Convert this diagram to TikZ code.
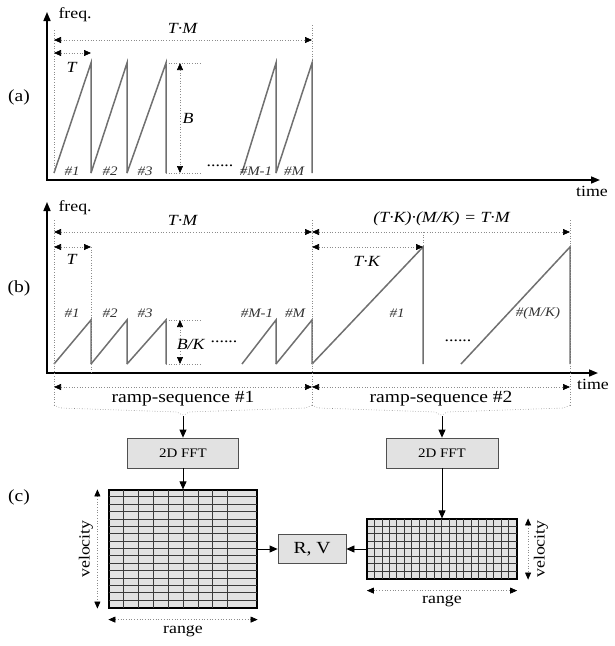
\documentclass[tikz,border=0pt]{standalone}
\usepackage{fontspec}
\setmainfont{Liberation Serif}[FakeStretch=1.15]
\usetikzlibrary{arrows.meta,calc}
\definecolor{rampgray}{HTML}{707070}
\definecolor{guidegray}{HTML}{8C8C8C}
\definecolor{boxfill}{HTML}{E2E2E2}
\definecolor{boxline}{HTML}{505050}
\definecolor{cellline}{HTML}{3A3A3A}
\newcommand{\fs}[1]{\fontsize{#1}{#1}\selectfont}

\begin{document}
\begin{tikzpicture}[x=1pt, y=-1pt, >={Triangle[length=7pt,width=6pt,color=black]}, font=\fs{15.5},
  axis/.style={<->, line width=1.6pt, >={Triangle[length=9pt,width=7pt]}},
  ramp/.style={rampgray, line width=1.5pt},
  guide/.style={guidegray, dotted, line width=0.6pt},
  dim/.style={<->, guidegray, dotted, line width=0.7pt},
  idx/.style={font=\fs{13}\itshape, text=black!80},
  flow/.style={->, line width=0.8pt, >={Triangle[length=8pt,width=7pt]}},
  fftbox/.style={draw=boxline, fill=boxfill, line width=0.8pt, minimum width=111pt, minimum height=30pt, inner sep=0pt, font=\fs{13}},
  mapbox/.style={draw=black, fill=boxfill, line width=1.2pt, inner sep=0pt},
  cell/.style={cellline, line width=0.6pt}]
\useasboundingbox (0,0) rectangle (615,646);

% (a) one sequence of M equal ramps
\node[font=\fs{17}] (pa) at (19,97) {(a)};
\draw[axis] (47,12) -- (47,180) -- (600,180);
\node[anchor=west] (fa) at (55,15) {freq.};
\node (ta) at (592,191) {time};
\foreach \a/\b in {54/91, 91/127, 127/166, 242/276, 276/312} {\draw[ramp] (\a,173) -- (\b,63) -- (\b,173);}
\draw[guide] (54,30) -- (54,173);  \draw[guide] (312,25) -- (312,63);
\draw[guide] (166,63) -- (200,63); \draw[guide] (166,173) -- (200,173);
\draw[dim] (54,40) -- (312,40);
\node (tma) at (183,28) {\textit{T·M}};
\draw[dim] (54,53) -- (91,53);
\node (tpa) at (72,67) {\textit{T}};
\draw[dim] (180,63) -- (180,173);
\node (ba) at (188,118) {\textit{B}};
\node (dota) at (220,166) {......};
\foreach \x/\t [count=\k] in {72/1, 110/2, 145/3, 256/M-1, 294/M} {\node[idx] (ia\k) at (\x,171) {\#\t};}

% (b) M/K times steeper: two ramp-sequences of the same length
\node[font=\fs{17}] (pb) at (19,288) {(b)};
\draw[axis] (47,202) -- (47,373) -- (598,373);
\node[anchor=west] (fb) at (55,208) {freq.};
\node (tb) at (593,384) {time};
\foreach \a/\b in {54/91, 91/127, 127/166, 242/276, 276/312} {\draw[ramp] (\a,364) -- (\b,320) -- (\b,364);}
\draw[ramp] (312,364) -- (423,247) -- (423,364);
\draw[ramp] (461,364) -- (570,247) -- (570,364);
\draw[guide] (54,220) -- (54,405);  \draw[guide] (91,247) -- (91,373);
\draw[guide] (312,220) -- (312,405); \draw[guide] (423,232) -- (423,247);
\draw[guide] (570,220) -- (570,405);
\draw[guide] (166,320) -- (200,320); \draw[guide] (166,364) -- (200,364);
\draw[dim] (54,232) -- (312,232);
\node (tmb) at (183,220) {\textit{T·M}};
\draw[dim] (54,247) -- (91,247);
\node (tpb) at (72,259) {\textit{T}};
\draw[dim] (312,232) -- (570,232);
\node (tkm) at (442,219) {\textit{(T·K)·(M/K) = T·M}};
\draw[dim] (312,247) -- (423,247);
\node (tkb) at (367,261) {\textit{T·K}};
\draw[dim] (180,320) -- (180,364);
\node (bkb) at (191,344) {\textit{B/K}};
\node (dotb) at (224,342) {......};
\node (dotc) at (458,341) {......};
\foreach \x/\t [count=\k] in {72/1, 110/2, 145/3, 257/M-1, 295/M, 397/1, 538/{(M/K)}} {\node[idx] (ib\k) at (\x,313) {\#\t};}

% ramp-sequences and their braces
\draw[dim] (54,387) -- (312,387);
\draw[dim] (312,387) -- (570,387);
\node[font=\fs{17}] (rs1) at (183,399) {ramp-sequence \#1};
\node[font=\fs{17}] (rs2) at (441,399) {ramp-sequence \#2};
\draw[guide, rounded corners=2pt] (54,405) -- (60,408) -- (178,412) -- (183,416) -- (188,412) -- (306,408) -- (312,405);
\draw[guide, rounded corners=2pt] (312,405) -- (318,408) -- (436,412) -- (441,416) -- (446,412) -- (564,408) -- (570,405);
\coordinate (tip1) at (183,416);
\coordinate (tip2) at (442,416);

% (c) processing of each sequence
\node[font=\fs{17}] (pc) at (19,497) {(c)};
\node[fftbox] (fft1) at (183,453) {2D FFT};
\node[fftbox, minimum width=112pt] (fft2) at (442,453) {2D FFT};
\node[mapbox, minimum width=148pt, minimum height=118pt] (map1) at (183,549) {};
\node[mapbox, minimum width=149pt, minimum height=60pt] (map2) at (442,549) {};
\foreach \i in {1,...,8} {\draw[cell] ($(map1.north west)+(\i*14.9,0)$) -- ($(map1.south west)+(\i*14.9,0)$);}
\foreach \j in {1,...,15} {\draw[cell] ($(map1.north west)+(0,\j*7.375)$) -- ($(map1.north east)+(0,\j*7.375)$);}
\foreach \i in {1,...,19} {\draw[cell] ($(map2.north west)+(\i*7.45,0)$) -- ($(map2.south west)+(\i*7.45,0)$);}
\foreach \j in {1,...,7} {\draw[cell] ($(map2.north west)+(0,\j*7.5)$) -- ($(map2.north east)+(0,\j*7.5)$);}
\draw[line width=1.2pt] (map1.north west) rectangle (map1.south east);
\draw[line width=1.2pt] (map2.north west) rectangle (map2.south east);
\node[fftbox, minimum width=68pt, minimum height=29pt, font=\fs{17}] (rv) at (312,549) {R, V};
\draw[flow] (tip1) -- (fft1);
\draw[flow] (fft1) -- (map1);
\draw[flow] (tip2) -- (fft2);
\draw[flow] (fft2) -- (map2);
\draw[flow] (map1) -- (rv);
\draw[flow] (map2) -- (rv);
% axes of the range-velocity maps
\draw[dim] ([xshift=-11pt]map1.north west) -- ([xshift=-11pt]map1.south west);
\node[rotate=90] (vel1) at (86,549) {velocity};
\draw[dim] ([yshift=-11pt]map1.south west) -- ([yshift=-11pt]map1.south east);
\node (rng1) at (183,631) {range};
\draw[dim] ([xshift=11pt]map2.north east) -- ([xshift=11pt]map2.south east);
\node[rotate=90] (vel2) at (541,549) {velocity};
\draw[dim] ([yshift=-11pt]map2.south west) -- ([yshift=-11pt]map2.south east);
\node (rng2) at (442,601) {range};
\end{tikzpicture}
\end{document}
